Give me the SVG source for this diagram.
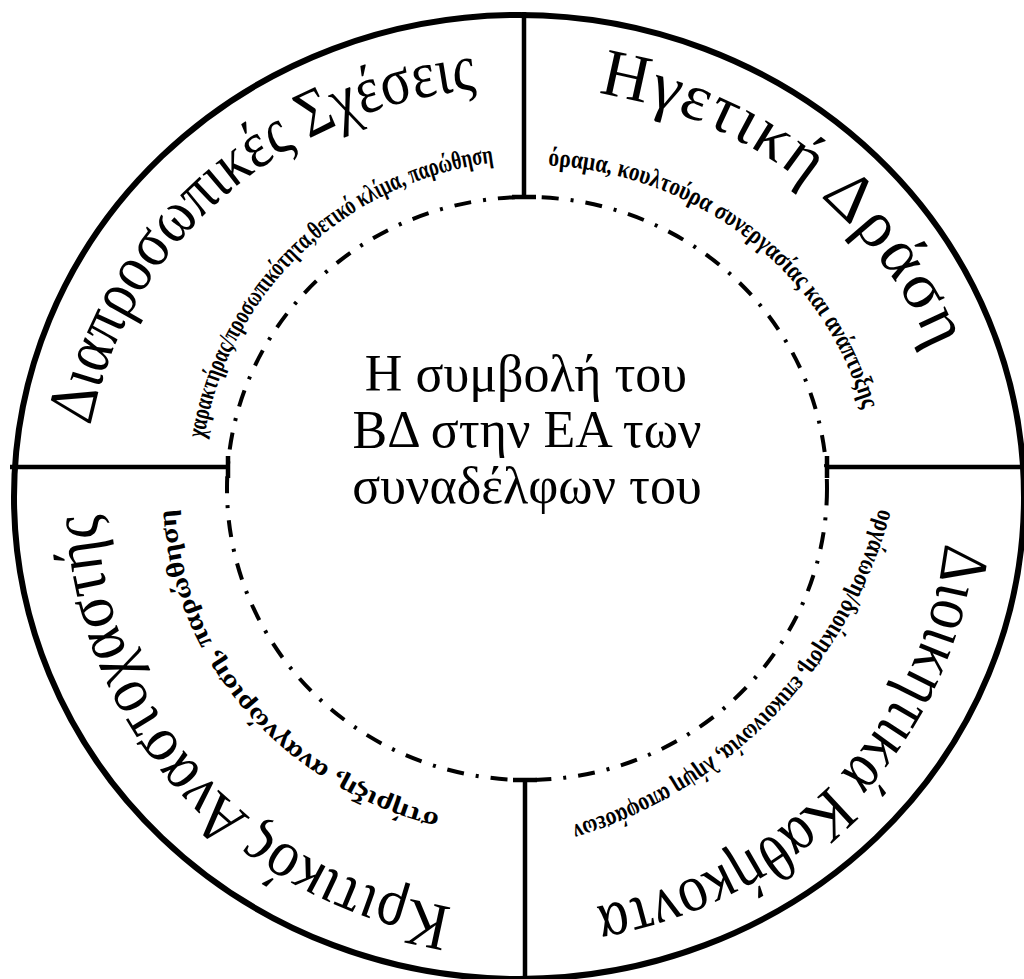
<svg xmlns="http://www.w3.org/2000/svg" width="1024" height="979" viewBox="0 0 1024 979">
<style>
.big{font-family:"Liberation Serif","DejaVu Serif",serif;font-size:67px;fill:#000}
.small{font-family:"Liberation Serif","DejaVu Serif",serif;font-size:26px;font-weight:bold;fill:#000}
.center{font-family:"Liberation Serif","DejaVu Serif",serif;font-size:52px;fill:#000;text-anchor:middle}
.line{stroke:#000;stroke-width:4.5;fill:none}
</style>
<defs>
<path id="pBigTL" d="M 90.7 425.8 A 438 410 0 0 1 476.2 89.3"/>
<path id="pBigTR" d="M 598.1 93.2 A 438 410 0 0 1 930.9 350.1"/>
<path id="pBigBR" d="M 944.7 543.2 A 425 413 0 0 1 595.8 906.7"/>
<path id="pBigBL" d="M 451.9 907.3 A 425 413 0 0 1 97.3 514.4"/>
<path id="pSmTL" d="M 204.1 438.4 A 335 330 0 0 1 494.2 162.5"/>
<path id="pSmTR" d="M 548.1 165.5 A 345 330 0 0 1 863.2 409.6"/>
<path id="pSmBR" d="M 879.3 508.5 A 455 455 0 0 1 571.5 825.6"/>
<path id="pSmBL" d="M 439.9 814.2 A 355 330 0 0 1 175.5 512.3"/>
</defs>
<rect width="1024" height="979" fill="#fff"/>
<g id="frame">
<ellipse cx="519" cy="497" rx="505" ry="482" fill="none" stroke="#000" stroke-width="6"/>
<ellipse cx="527" cy="488.5" rx="300" ry="291.5" fill="none" stroke="#000" stroke-width="4" stroke-dasharray="17 12 3 12"/>
</g>
<g id="connectors">
<path class="line" d="M 524 12 V 197 M 512 197 H 536"/>
<path class="line" d="M 10 467 H 228 M 228 456 V 478"/>
<path class="line" d="M 827 467 H 1024 M 827 456 V 478"/>
<path class="line" d="M 525 780 V 979 M 513 780 H 537"/>
</g>
<g id="node-center">
<text class="center" x="526" y="391">Η συμβολή του</text>
<text class="center" x="527" y="447">ΒΔ στην ΕΑ των</text>
<text class="center" x="527" y="503">συναδέλφων του</text>
</g>
<g id="node-interpersonal">
<text class="big"><textPath href="#pBigTL" textLength="549" lengthAdjust="spacingAndGlyphs">Διαπροσωπικές Σχέσεις</textPath></text>
<text class="small"><textPath href="#pSmTL" textLength="429" lengthAdjust="spacingAndGlyphs">χαρακτήρας/προσωπικότητα,θετικό κλίμα, παρώθηση</textPath></text>
</g>
<g id="node-leadership">
<text class="big"><textPath href="#pBigTR" textLength="439">Ηγετική Δράση</textPath></text>
<text class="small"><textPath href="#pSmTR" textLength="425" lengthAdjust="spacingAndGlyphs">όραμα, κουλτούρα συνεργασίας και ανάπτυξης</textPath></text>
</g>
<g id="node-admin">
<text class="big"><textPath href="#pBigBR" textLength="541" lengthAdjust="spacingAndGlyphs">Διοικητικά Καθήκοντα</textPath></text>
<text class="small"><textPath href="#pSmBR" textLength="461" lengthAdjust="spacingAndGlyphs">οργάνωση/διοίκηση, επικοινωνία, λήψη αποφάσεων</textPath></text>
</g>
<g id="node-reflective">
<text class="big"><textPath href="#pBigBL" textLength="573" lengthAdjust="spacingAndGlyphs">Κριτικός Αναστοχαστής</textPath></text>
<text class="small"><textPath href="#pSmBL" textLength="433" lengthAdjust="spacingAndGlyphs">στήριξη, αναγνώριση, παρώθηση</textPath></text>
</g>
</svg>
